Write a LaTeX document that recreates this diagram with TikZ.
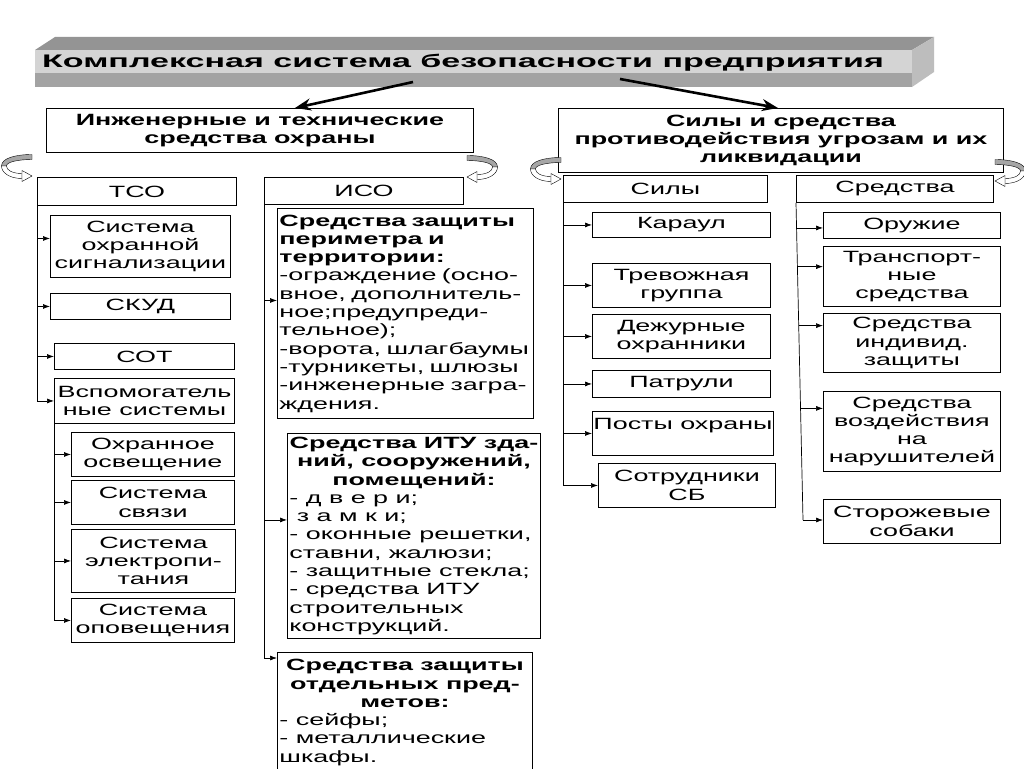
\documentclass[tikz,border=0pt]{standalone}
\usepackage{fontspec}
\setmainfont{Liberation Sans}[FakeStretch=1.65]
\newfontfamily\titlefont{Liberation Sans}[FakeStretch=1.87]
\usetikzlibrary{arrows.meta,calc}
\newcommand\bx[7][]{\node[bx,minimum width={#5-#3},minimum height={#6-#4},#1] (#2) at (#3,#4) {#7};}
\newcommand\curl[3]{%
\begin{scope}[shift={(#1,#2)},xscale=#3]
\filldraw[fill=black!35,line width=0.4pt] (0,-2.5) .. controls (-16,-2.5) and (-30.5,1) .. (-30.5,9) -- (-25.5,9) .. controls (-25.5,5) and (-14,2.5) .. (0,2.5) -- cycle;
\filldraw[fill=white,line width=0.4pt] (-30.5,9) .. controls (-30.5,16) and (-22,21.5) .. (-10,21.5) -- (-10,16.5) .. controls (-20,16.5) and (-25.5,13) .. (-25.5,9) -- cycle;
\filldraw[fill=white,line width=0.4pt] (-10,13.5) -- (0,19) -- (-10,24.5) -- cycle;
\end{scope}}
\begin{document}
\begin{tikzpicture}[x=1pt,y=-1pt,
  bx/.style={draw,line width=0.9pt,anchor=north west,inner sep=1pt,align=center,font=\fontsize{16.3}{18.3}\selectfont},
  hd/.style={font=\bfseries\fontsize{16.3}{18.3}\selectfont},
  conn/.style={line width=0.7pt,-{Latex[length=7pt,width=5pt]}},
  vline/.style={line width=0.7pt},
  bigarr/.style={line width=2.6pt,-{Stealth[length=16pt,width=12pt]}}]
\clip (0,0) rectangle (1024,768);
\fill[white] (0,0) rectangle (1024,768);
% title bar
\fill[black!42] (35,50) -- (55,37) -- (934,37) -- (912,50) -- cycle;
\fill[black!17] (35,50) rectangle (912,73);
\fill[black!36] (35,73) rectangle (912,87);
\fill[black!26] (912,50) -- (934,37) -- (934,72) -- (912,87) -- cycle;
\node[anchor=base west,inner sep=0,font=\titlefont\bfseries\fontsize{18.2}{20}\selectfont] (title) at (42,67) {Комплексная система безопасности предприятия};
% level 1
\bx[hd]{ints}{46}{108}{473}{152}{Инженерные и технические\\средства охраны}
\bx[hd]{sm}{558}{108}{1003}{172}{Силы и средства\\противодействия угрозам и их\\ликвидации}
\coordinate (ta) at (413,82);
\coordinate (tb) at (620,79);
\draw[bigarr] (ta) -- ([xshift=35pt]ints.north);
\draw[bigarr] (tb) -- ([xshift=-3pt]sm.north);
% curls
\curl{32}{157}{1}
\curl{467}{158}{-1}
\curl{561}{160}{1}
\curl{995}{162}{-1}
% headers
\bx{tso}{37}{177}{236}{205}{ТСО}
\bx{iso}{264}{177}{463}{204}{ИСО}
\bx{sily}{563}{175}{767}{202}{Силы}
\bx{sr}{796}{175}{993}{202}{Средства}
% TSO column
\bx{sos}{50}{215}{230}{277}{Система\\охранной\\сигнализации}
\bx{skud}{50}{293}{230}{319}{СКУД}
\bx{sot}{54}{343}{234}{369}{СОТ}
\bx{vsp}{54}{378}{234}{423}{Вспомогатель\\ные системы}
\bx{oo}{71}{432}{234}{476}{Охранное\\освещение}
\bx{ss}{71}{480}{234}{524}{Система\\связи}
\bx{sep}{71}{529}{235}{592}{Система\\электропи-\\тания}
\bx{so}{71}{598}{234}{642}{Система\\оповещения}
\draw[conn] (tso.south west) |- ([yshift=8pt]sos.west);
\draw[conn] (tso.south west) |- (skud.west);
\draw[conn] (tso.south west) |- (sot.west);
\draw[conn] (tso.south west) |- (vsp.west);
\draw[conn] (vsp.south west) |- (oo.west);
\draw[conn] (vsp.south west) |- (ss.west);
\draw[conn] (vsp.south west) |- (sep.west);
\draw[conn] (vsp.south west) |- (so.west);
% ISO column
\bx[align=left,text width=252pt]{i1}{277}{208}{533}{418}{\textbf{Средства защиты}\\\textbf{периметра и}\\\textbf{территории:}\\-ограждение (осно-\\вное, дополнитель-\\ное;предупреди-\\тельное);\\-ворота, шлагбаумы\\-турникеты, шлюзы\\-инженерные загра-\\ждения.}
\bx{i2}{287}{433}{540}{638}{\textbf{Средства ИТУ зда-}\\\textbf{ний, сооружений,}\\\textbf{помещений:}\\\makebox[249pt][l]{- д в е р и;}\\\makebox[249pt][l]{ з а м к и;}\\\makebox[249pt][l]{- оконные решетки,}\\\makebox[249pt][l]{ставни, жалюзи;}\\\makebox[249pt][l]{- защитные стекла;}\\\makebox[249pt][l]{- средства ИТУ}\\\makebox[249pt][l]{строительных}\\\makebox[249pt][l]{конструкций.}}
\bx{i3}{277}{652}{532}{772}{\textbf{Средства защиты}\\\textbf{отдельных пред-}\\\textbf{метов:}\\\makebox[251pt][l]{- сейфы;}\\\makebox[251pt][l]{- металлические}\\\makebox[251pt][l]{шкафы.}}
\draw[conn] (iso.south west) |- ([yshift=13pt]i1.west);
\draw[conn] (iso.south west) |- ([yshift=16pt]i2.west);
\draw[conn] (iso.south west) |- ([yshift=-6pt]i3.north west);
% Sily column
\bx{kar}{592}{212}{770}{237}{Караул}
\bx{tg}{592}{263}{770}{307}{Тревожная\\группа}
\bx{dox}{592}{314}{770}{358}{Дежурные\\охранники}
\bx{pat}{592}{370}{770}{397}{Патрули}
\bx{po}{592}{411}{770}{455}{Посты охраны\\\phantom{X}}
\bx{sb}{598}{463}{775}{507}{Сотрудники\\СБ}
\foreach \n in {kar,tg,dox,pat,po,sb} {\draw[conn] (sily.south west) |- (\n.west);}
% Sredstva column
\bx{or}{823}{212}{1000}{238}{Оружие}
\bx{tr}{823}{246}{1000}{306}{Транспорт-\\ные\\средства}
\bx{si}{823}{313}{1000}{372}{Средства\\индивид.\\защиты}
\bx{sv}{823}{391}{1000}{471}{Средства\\воздействия\\на\\нарушителей}
\bx{sob}{823}{499}{1000}{543}{Сторожевые\\собаки}
\coordinate (srb) at (803,520);
\draw[vline] (sr.south west) -- (srb);
\draw[conn] ($(sr.south west)!0.079!(srb)$) coordinate (q1) -- (q1 -| or.west);
\draw[conn] ($(sr.south west)!0.201!(srb)$) coordinate (q2) -- (q2 -| tr.west);
\draw[conn] ($(sr.south west)!0.387!(srb)$) coordinate (q3) -- (q3 -| si.west);
\draw[conn] ($(sr.south west)!0.648!(srb)$) coordinate (q4) -- (q4 -| sv.west);
\draw[conn] (srb) -- (srb -| sob.west);
\end{tikzpicture}
\end{document}
